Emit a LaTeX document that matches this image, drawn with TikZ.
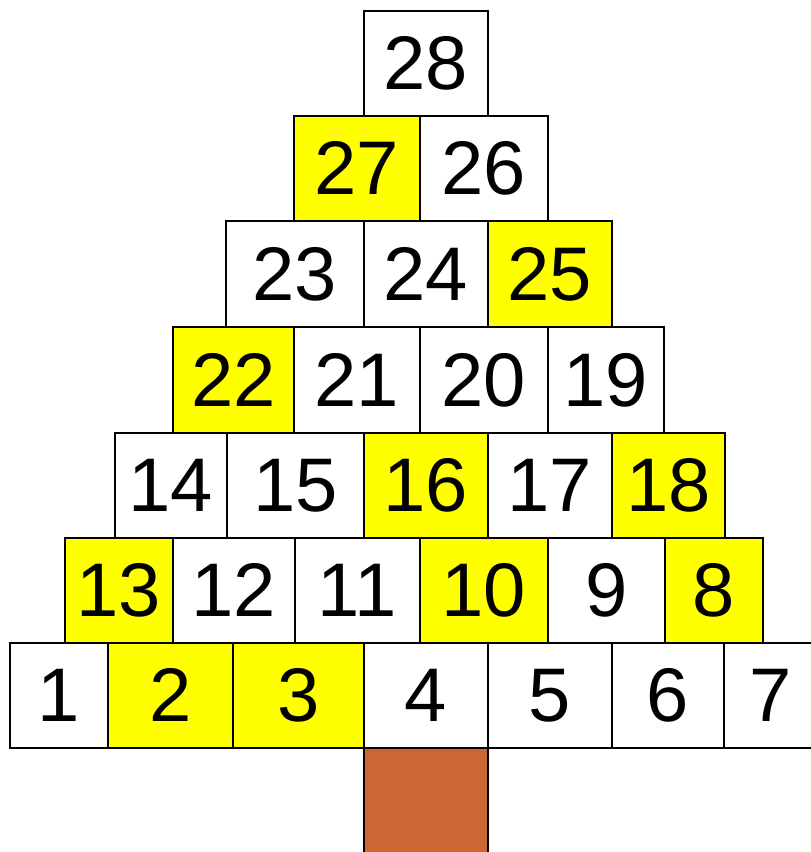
\documentclass[tikz,border=0pt]{standalone}
\usepackage{fontspec}
\setmainfont{Liberation Sans}
\definecolor{treeyellow}{HTML}{FFFF00}
\definecolor{trunkbrown}{HTML}{CC6633}
\begin{document}
\begin{tikzpicture}[x=1pt,y=-1pt,
  cellbox/.style={draw=black, line width=1.8pt, inner sep=0pt, anchor=north west,
    font=\fontsize{76}{80}\selectfont},
  yel/.style={fill=treeyellow},
  wht/.style={fill=white}]
\useasboundingbox (0,0) rectangle (811,852);
\clip (0,0) rectangle (811,852);
\foreach \n/\a/\b/\t/\bt/\f in {
  28/363/487/10/115/wht,
  27/293/419/115/220/yel, 26/419/547/115/220/wht,
  23/225/363/220/326/wht, 24/363/487/220/326/wht, 25/487/611/220/326/yel,
  22/172/293/326/432/yel, 21/293/419/326/432/wht, 20/419/547/326/432/wht, 19/547/663/326/432/wht,
  14/114/226/432/537/wht, 15/226/363/432/537/wht, 16/363/487/432/537/yel, 17/487/611/432/537/wht, 18/611/724/432/537/yel,
  13/64/172/537/642/yel, 12/172/294/537/642/wht, 11/294/419/537/642/wht, 10/419/547/537/642/yel, 9/547/664/537/642/wht, 8/664/762/537/642/yel,
  1/9/107/642/747/wht, 2/107/232/642/747/yel, 3/232/363/642/747/yel, 4/363/487/642/747/wht, 5/487/611/642/747/wht, 6/611/723/642/747/wht, 7/723/816/642/747/wht}
{
  \node[cellbox, \f, minimum width={(\b-\a)*1pt}, minimum height={(\bt-\t)*1pt}] (c\n) at (\a,\t) {\n};
}
\node[cellbox, fill=trunkbrown, minimum width=124pt, minimum height=110pt] (trunk) at (363,747) {};
\end{tikzpicture}
\end{document}
